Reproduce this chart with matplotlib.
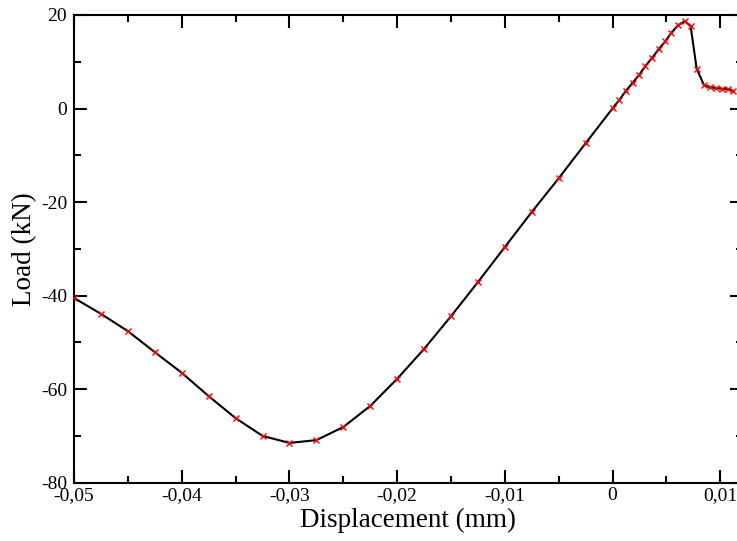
import matplotlib.pyplot as plt
from matplotlib.ticker import MultipleLocator, FuncFormatter

# displacement (mm) and load (kN)
disp = [-0.05, -0.0475, -0.045, -0.0425, -0.04, -0.0375, -0.035, -0.0325, -0.03,
        -0.0275, -0.025, -0.0225, -0.02, -0.0175, -0.015, -0.0125, -0.01, -0.0075,
        -0.005, -0.0025, 0.0, 0.00062, 0.00124, 0.00186, 0.00248, 0.00304, 0.00366,
        0.00427, 0.0049, 0.00545, 0.00607, 0.00669, 0.00724, 0.0078, 0.00849,
        0.00904, 0.0096, 0.01016, 0.01071, 0.0112]
load = [-40.5, -43.9, -47.6, -52.1, -56.5, -61.5, -66.2, -70.0, -71.5,
        -70.9, -68.1, -63.6, -57.8, -51.4, -44.4, -37.1, -29.6, -22.1,
        -14.9, -7.4, 0.05, 1.83, 3.81, 5.52, 7.24, 9.1, 10.8,
        12.67, 14.38, 16.2, 17.8, 18.65, 17.65, 8.52, 4.97,
        4.54, 4.39, 4.24, 4.11, 3.8]

plt.rcParams['font.family'] = ['Liberation Serif', 'DejaVu Serif']

fig = plt.figure(figsize=(7.37, 5.41), dpi=100)
# right spine sits just past the picture's edge, as in the original crop
ax = fig.add_axes([0.1004, 0.1078, 0.9077, 0.8645])

ax.plot(disp, load, color='black', lw=1.5, zorder=2)
ax.plot(disp, load, ls='none', marker='x', color='red', ms=5, mew=1.0, zorder=3)

ax.set_xlim(-0.05, 0.0121)
ax.set_ylim(-80, 20)
ax.xaxis.set_major_locator(MultipleLocator(0.01))
ax.xaxis.set_minor_locator(MultipleLocator(0.005))
ax.yaxis.set_major_locator(MultipleLocator(20))
ax.yaxis.set_minor_locator(MultipleLocator(10))


def comma_fmt(v, pos):
    if abs(v) < 1e-9:
        return '0'
    return ('%g' % round(v, 4)).replace('.', ',')


ax.xaxis.set_major_formatter(FuncFormatter(comma_fmt))
ax.yaxis.set_major_formatter(FuncFormatter(lambda v, p: '%d' % v))

ax.tick_params(which='both', direction='in', top=True, right=True, width=1.5,
               labelsize=14)
ax.tick_params(axis='x', pad=3)
ax.tick_params(axis='y', pad=5)
ax.tick_params(which='major', length=9.5)
ax.tick_params(which='minor', length=4.7)
for s in ax.spines.values():
    s.set_linewidth(1.5)

ax.set_xlabel('Displacement (mm)', fontsize=19.5, labelpad=3)
ax.set_ylabel('Load (kN)', fontsize=19.5, labelpad=3)

fig.savefig('out.png', dpi=100)
